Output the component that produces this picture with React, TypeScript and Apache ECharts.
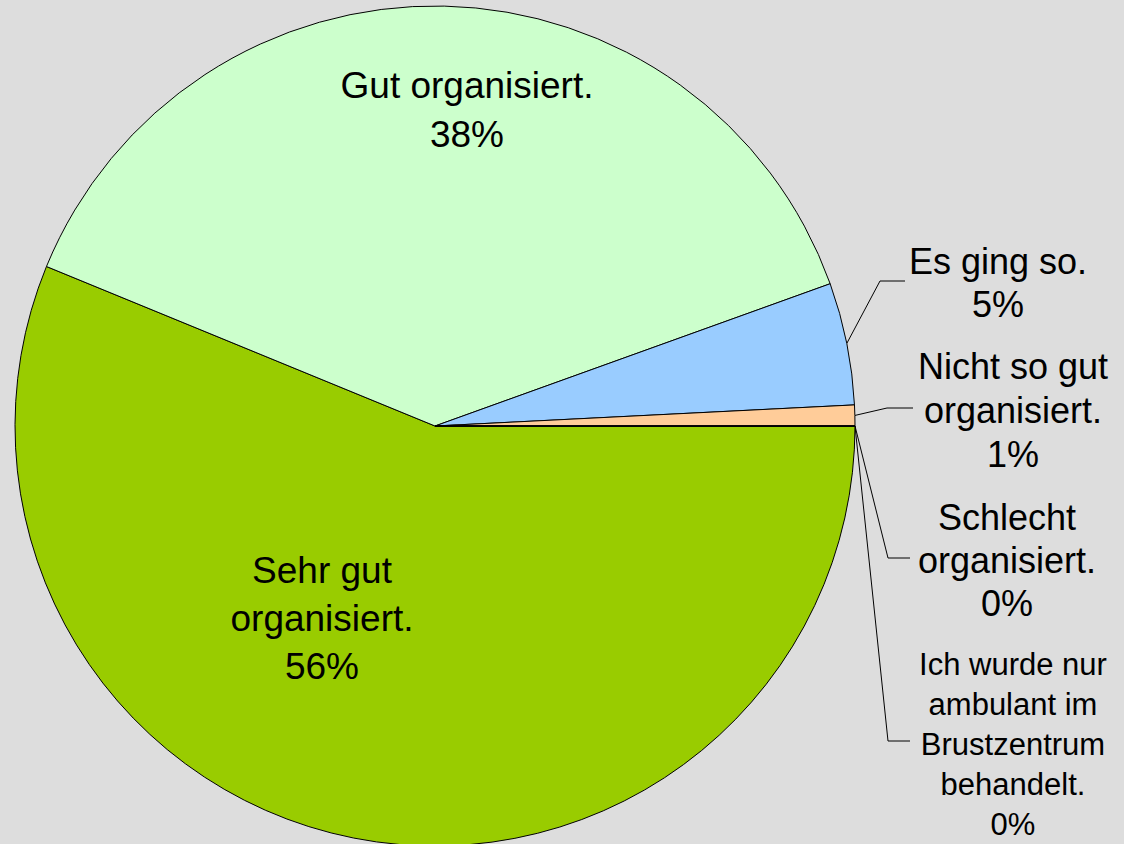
import React, { useEffect, useRef } from "react";
import * as echarts from "echarts";

const categories = [
  "Sehr gut organisiert.",
  "Gut organisiert.",
  "Es ging so.",
  "Nicht so gut organisiert.",
  "Schlecht organisiert.",
  "Ich wurde nur ambulant im Brustzentrum behandelt.",
];
const labelTexts = [
  "Sehr gut\norganisiert.",
  "Gut organisiert.",
  "Es ging so.",
  "Nicht so gut\norganisiert.",
  "Schlecht\norganisiert.",
  "Ich wurde nur\nambulant im\nBrustzentrum\nbehandelt.",
];
const values = [56.2, 38.3, 4.7, 0.8, 0, 0];
const colors = ["#99CC00", "#CCFFCC", "#99CCFF", "#FFCC99", "#FF9900", "#CC99FF"];

// label layout (positions in px on the 1124x844 canvas)
const placements = [
  { x: 322, y: 618, size: 37, lh: 48, outside: false },
  { x: 467, y: 110, size: 37, lh: 49, outside: false },
  { x: 998, y: 283, size: 36, lh: 43, outside: true, elbow: [880, 281], end: [905, 281] },
  { x: 1013, y: 410, size: 36, lh: 44, outside: true, elbow: [887, 408], end: [913, 408] },
  { x: 1007, y: 560, size: 36, lh: 43, outside: true, elbow: [888, 558], end: [910, 558] },
  { x: 1013, y: 744, size: 31, lh: 40, outside: true, elbow: [888, 741], end: [910, 741] },
];

export default function App() {
  const ref = useRef<HTMLDivElement>(null);
  useEffect(() => {
    if (!ref.current) return;
    const chart = echarts.init(ref.current, undefined, { renderer: "svg" });
    const data = categories.map((name, i) => ({
      name,
      value: values[i],
      itemStyle: { color: colors[i] },
      label: {
        position: placements[i].outside ? "outside" : "inside",
        fontSize: placements[i].size,
        lineHeight: placements[i].lh,
      },
      labelLine: { show: placements[i].outside },
    }));
    chart.setOption({
      animation: false,
      backgroundColor: "#DDDDDD",
      series: [
        {
          type: "pie",
          center: [435, 426],
          radius: 420,
          startAngle: 0,
          clockwise: true,
          percentPrecision: 0,
          avoidLabelOverlap: false,
          itemStyle: { borderColor: "#000000", borderWidth: 1 },
          label: {
            show: true,
            color: "#000000",
            fontFamily: "'Liberation Sans', Arial, sans-serif",
            align: "center",
            formatter: (p: any) => `${labelTexts[p.dataIndex]}\n${p.percent}%`,
          },
          labelLine: {
            show: true,
            length: 20,
            length2: 20,
            lineStyle: { color: "#000000", width: 1 },
          },
          emphasis: { disabled: true },
          labelLayout: (params: any) => {
            const pl = placements[params.dataIndex];
            const res: any = {
              x: pl.x,
              y: pl.y,
              align: "center",
              verticalAlign: "middle",
            };
            if (pl.outside && params.labelLinePoints) {
              res.labelLinePoints = [params.labelLinePoints[0], pl.elbow, pl.end];
            }
            return res;
          },
          data,
        },
      ],
    });
    return () => chart.dispose();
  }, []);
  return (
    <div
      ref={ref}
      style={{ position: "absolute", left: 0, top: 0, width: 1124, height: 844 }}
    />
  );
}
